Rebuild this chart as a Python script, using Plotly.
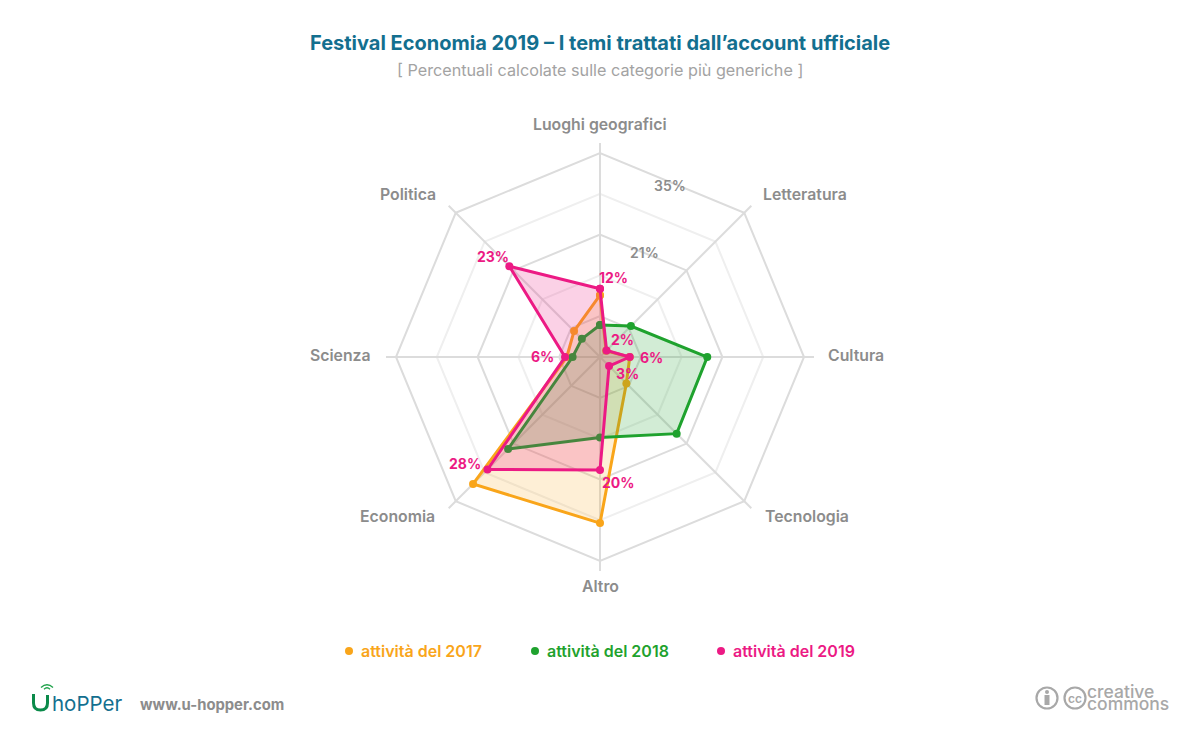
import plotly.graph_objects as go

categories = ["Luoghi geografici", "Letteratura", "Cultura", "Tecnologia",
              "Altro", "Economia", "Scienza", "Politica"]
val_2017 = [10.6, 1.5, 5.1, 6.4, 28.5, 30.8, 5.7, 6.3]
val_2018 = [5.5, 7.5, 18.4, 18.6, 13.8, 22.3, 4.7, 4.4]
val_2019 = [11.7, 1.6, 5.1, 2.2, 19.4, 27.3, 6.0, 22.0]
labels_2019 = ["12%", "2%", "6%", "3%", "20%", "28%", "6%", "23%"]
rings_dark = [7, 21, 35]
rings_light = [14, 28]
series_names = ["attività del 2017", "attività del 2018", "attività del 2019"]

ORANGE = "#f9a51a"
GREEN = "#1fa22e"
PINK = "#ec1a84"
GREY = "#8c8c8c"
LOGO_GREY = "#a8a8a8"
FONT = "Inter"
W, H = 1200, 740
CX, CY = 600, 357
R = 214

# where the labels sit on the page
label_xy = [(613, 278), (622, 339), (651, 357), (627, 374),
            (618, 482), (465, 463), (542, 356), (493, 256)]
category_xy = [(600, 124), (805, 194), (856, 355), (807, 516),
               (600, 586), (397.5, 516), (340, 355), (408, 194)]


def px(x):
    return x / W


def py(y):
    return 1 - y / H


def closed(a):
    return list(a) + [a[0]]


fig = go.Figure()

# dummy trace, only so the lower polar gets its categories
fig.add_trace(go.Scatterpolar(r=[0] * 8, theta=categories, mode="lines", line_width=0,
                              hoverinfo="skip", showlegend=False, subplot="polar"))

for vals, col, fill in [(val_2017, ORANGE, "rgba(249,165,26,0.18)"),
                        (val_2018, GREEN, "rgba(31,162,46,0.20)"),
                        (val_2019, PINK, "rgba(236,26,132,0.20)")]:
    fig.add_trace(go.Scatterpolar(r=closed(vals), theta=closed(categories), mode="lines+markers",
                                  line=dict(color=col, width=3), marker=dict(color=col, size=8),
                                  fill="toself", fillcolor=fill, showlegend=False, subplot="polar2"))

dom_x = [px(CX - R), px(CX + R)]
dom_y = [py(CY + R), py(CY - R)]
range_max = R / (204 / 35)

fig.update_layout(
    width=W, height=H,
    margin=dict(l=0, r=0, t=0, b=0),
    paper_bgcolor="white",
    polar=dict(
        domain=dict(x=dom_x, y=dom_y), gridshape="linear", bgcolor="rgba(0,0,0,0)",
        radialaxis=dict(range=[0, range_max], tickvals=rings_light, showticklabels=False,
                        ticks="", showline=False, gridcolor="#efefef", gridwidth=2),
        angularaxis=dict(direction="clockwise", rotation=90, categoryorder="array",
                         categoryarray=categories, showgrid=False, showline=False,
                         showticklabels=False, ticks=""),
    ),
    polar2=dict(
        domain=dict(x=dom_x, y=dom_y), gridshape="linear", bgcolor="rgba(0,0,0,0)",
        radialaxis=dict(range=[0, range_max], tickvals=rings_dark, showticklabels=False,
                        ticks="", showline=False, gridcolor="#dcdcdc", gridwidth=2),
        angularaxis=dict(direction="clockwise", rotation=90, categoryorder="array",
                         categoryarray=categories, gridcolor="#dcdcdc", gridwidth=2,
                         showline=False, ticks="", showticklabels=False),
    ),
)


def note(x, y, text, size, color, weight=600, anchor="center"):
    fig.add_annotation(x=px(x), y=py(y), xref="paper", yref="paper", text=text, showarrow=False,
                       xanchor=anchor, yanchor="middle",
                       font=dict(family=FONT, size=size, color=color, weight=weight))


note(600, 43, "Festival Economia 2019 – I temi trattati dall’account ufficiale", 20, "#136f8f", 700)
note(600, 70, "[ Percentuali calcolate sulle categorie più generiche ]", 16.2, "#a3a3a3", 400)
note(670, 185, "35%", 14, GREY)
note(644, 252, "21%", 14, GREY)

# axis names as notes, plotly pushes them out the same distance in every direction
for cat, (lx, ly) in zip(categories, category_xy):
    note(lx, ly, cat, 15.8, GREY)

for lab, (lx, ly) in zip(labels_2019, label_xy):
    note(lx, ly, lab, 14, PINK, 700)

# legend by hand: dots sit close to coloured text
for name, col, dot_x in zip(series_names, [ORANGE, GREEN, PINK], [349, 535, 721]):
    fig.add_shape(type="circle", xref="paper", yref="paper", x0=px(dot_x - 4), x1=px(dot_x + 4),
                  y0=py(651 + 4), y1=py(651 - 4), fillcolor=col, line_width=0)
    note(dot_x + 10, 651, name, 16, col, 600, "left")

# footer, u-hopper logo
u_path = (f"M {px(33.5)} {py(694)} L {px(33.5)} {py(703)} Q {px(33.5)} {py(710)} {px(40.5)} {py(710)} "
          f"Q {px(47.5)} {py(710)} {px(47.5)} {py(703)} L {px(47.5)} {py(695)}")
fig.add_shape(type="path", xref="paper", yref="paper", line=dict(color="#0b8a4a", width=3), path=u_path)
for r_arc in [3.0, 6.0]:
    fig.add_shape(type="path", xref="paper", yref="paper", line=dict(color="#1fa24a", width=1.4),
                  path=f"M {px(47 - r_arc)} {py(691 - r_arc * 0.6)} Q {px(47)} {py(691 - r_arc * 1.5)} "
                       f"{px(47 + r_arc)} {py(691 - r_arc * 0.6)}")
note(50, 703, "hoPPer", 20.5, "#136f8f", 400, "left")
note(138, 705, "www.u-hopper.com", 14.8, GREY, 700, "left")

# footer, creative commons
for x_c in [1047, 1075]:
    fig.add_shape(type="circle", xref="paper", yref="paper", x0=px(x_c - 10.5), x1=px(x_c + 10.5),
                  y0=py(698 + 10.5), y1=py(698 - 10.5), line=dict(color=LOGO_GREY, width=2.2))
fig.add_shape(type="circle", xref="paper", yref="paper", x0=px(1045), x1=px(1049), y0=py(694),
              y1=py(690), fillcolor=LOGO_GREY, line_width=0)
fig.add_shape(type="rect", xref="paper", yref="paper", x0=px(1044.5), x1=px(1049.5), y0=py(705),
              y1=py(695), fillcolor=LOGO_GREY, line_width=0)
note(1075, 698, "cc", 12, LOGO_GREY, 600)
note(1085, 691, "creative", 17.5, LOGO_GREY, 500, "left")
note(1085, 703, "commons", 17.5, LOGO_GREY, 500, "left")

fig.write_html("out.html", config=dict(displayModeBar=False),
               post_script="document.body.style.margin='0';")
